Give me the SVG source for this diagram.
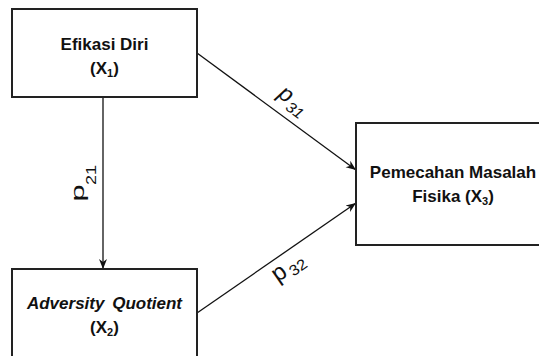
<svg xmlns="http://www.w3.org/2000/svg" width="539" height="356" viewBox="0 0 539 356">
  <style>
    .box { fill: #ffffff; stroke: #222222; stroke-width: 2; }
    .lbl { font-family: "Liberation Sans", Arial, sans-serif; font-size: 17px; font-weight: bold; fill: #111111; text-anchor: middle; }
    .sub { font-size: 11px; }
    .coef { font-family: "Liberation Sans", Arial, sans-serif; fill: #111111; text-anchor: middle; }
    .conn { stroke: #111111; stroke-width: 1.3; fill: none; marker-end: url(#arrow); }
  </style>
  <defs>
    <marker id="arrow" markerUnits="userSpaceOnUse" markerWidth="10" markerHeight="10" viewBox="0 0 10 10" refX="10" refY="5" orient="auto">
      <path d="M0,1 L10,5 L0,9 L3,5 Z" fill="#111111"/>
    </marker>
  </defs>
  <rect width="539" height="356" fill="#ffffff"/>

  <g id="connectors">
    <line class="conn" x1="103" y1="97" x2="103" y2="269"/>
    <line class="conn" x1="197" y1="53" x2="356" y2="170"/>
    <line class="conn" x1="197" y1="313" x2="356" y2="203"/>
    <!-- path coefficient p21 (vertical) -->
    <g id="coef-p21">
      <text class="coef" font-size="18" transform="translate(81,193) rotate(-90) scale(1.7,1)" y="2.8">p</text>
      <text class="coef" font-size="15" transform="translate(91,175) rotate(-90) scale(1.2,1)" y="5.4">21</text>
    </g>
    <!-- path coefficient p31 -->
    <g id="coef-p31">
      <text class="coef" font-size="23" font-style="italic" transform="translate(284,97) rotate(36)" y="3.6">p</text>
      <text class="coef" font-size="15" font-style="italic" transform="translate(295,110) rotate(36) scale(1.1,1)" y="5.4">31</text>
    </g>
    <!-- path coefficient p32 -->
    <g id="coef-p32">
      <text class="coef" font-size="24" transform="translate(281,276) rotate(-35)" y="3.7">p</text>
      <text class="coef" font-size="15" transform="translate(298,267) rotate(-35) scale(1.1,1)" y="5.4">32</text>
    </g>
  </g>

  <g id="node-x1">
    <rect class="box" x="12" y="9" width="185" height="88"/>
    <text class="lbl" x="104.5" y="50">Efikasi Diri</text>
    <text class="lbl" x="104.5" y="74">(X<tspan class="sub" dy="3">1</tspan><tspan dy="-3">)</tspan></text>
  </g>

  <g id="node-x2">
    <rect class="box" x="12" y="269" width="185" height="100"/>
    <text class="lbl" x="104.5" y="309" font-style="italic" word-spacing="3">Adversity Quotient</text>
    <text class="lbl" x="104.5" y="333">(X<tspan class="sub" dy="3">2</tspan><tspan dy="-3">)</tspan></text>
  </g>

  <g id="node-x3">
    <rect class="box" x="356" y="123" width="200" height="122"/>
    <text class="lbl" x="453" y="178">Pemecahan Masalah</text>
    <text class="lbl" x="453" y="202">Fisika (X<tspan class="sub" dy="3">3</tspan><tspan dy="-3">)</tspan></text>
  </g>
</svg>
